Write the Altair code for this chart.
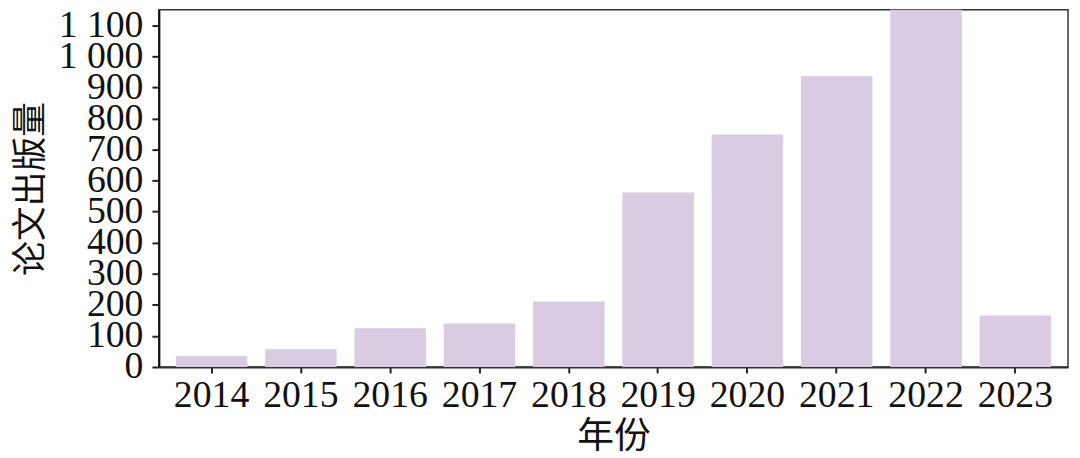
import altair as alt
import pandas as pd

years = ["2014", "2015", "2016", "2017", "2018", "2019", "2020", "2021", "2022", "2023"]
counts = [35, 57, 125, 140, 211, 562, 748, 936, 1250, 166]
y_ticks = [0, 100, 200, 300, 400, 500, 600, 700, 800, 900, 1000, 1100]

df = pd.DataFrame({"year": years, "count": counts})

bars = alt.Chart(df).mark_bar(color="#d9cbe2", clip=True).encode(
    x=alt.X(
        "year:N",
        sort=years,
        scale=alt.Scale(paddingInner=0.2, paddingOuter=0.19),
        axis=alt.Axis(
            title="年份",
            labelAngle=0,
            labelFont="Liberation Serif",
            labelFontSize=38,
            labelColor="#111",
            labelPadding=4,
            labelOverlap=False,
            titleFont="Noto Sans CJK SC",
            titleFontSize=37,
            titleFontWeight="normal",
            titleColor="#111",
            titlePadding=4,
            tickSize=6,
            tickColor="#222",
            tickWidth=2,
            domainColor="#333",
            domainWidth=2,
            grid=False,
        ),
    ),
    y=alt.Y(
        "count:Q",
        scale=alt.Scale(domain=[0, 1150], nice=False),
        axis=alt.Axis(
            title="论文出版量",
            values=y_ticks,
            labelExpr="replace(format(datum.value, ','), ',', ' ')",
            labelFont="Liberation Serif",
            labelFontSize=38,
            labelColor="#111",
            labelPadding=9,
            labelBaseline="middle",
            labelOverlap=False,
            titleFont="Noto Sans CJK SC",
            titleFontSize=35,
            titleFontWeight="normal",
            titleColor="#111",
            titlePadding=10,
            tickSize=7,
            tickColor="#222",
            tickWidth=2,
            domainColor="#111",
            domainWidth=2,
            grid=False,
        ),
    ),
)

chart = bars.properties(
    width=916,
    height=360,
    autosize=alt.AutoSizeParams(type="none"),
    padding={"left": 152, "top": 0, "right": 4, "bottom": 90},
).configure_view(
    stroke="#333",
    strokeWidth=1.5,
)

chart.save("out.html", embed_options={"renderer": "svg", "actions": False})
